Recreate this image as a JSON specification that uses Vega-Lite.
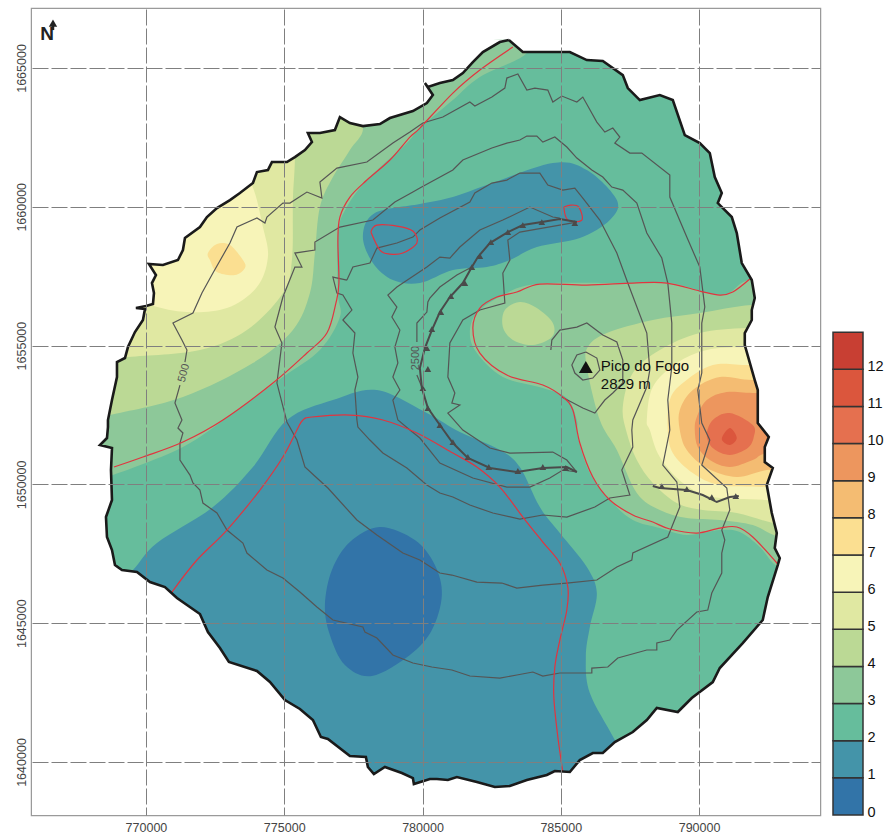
{
"$schema":"https://vega.github.io/schema/vega-lite/v6.json",
"background":"white","padding":{"left":0,"top":7,"right":0,"bottom":0},"autosize":{"type":"pad"},"spacing":10,
"config":{"font":"Liberation Sans"},
"datasets":{
"coast":[
{"k":"f","x":765879,"y":1667125},{"k":"f","x":794374,"y":1667125},{"k":"f","x":794374,"y":1638091},{"k":"f","x":765879,"y":1638091},{"k":"f","x":765879,"y":1667125},
{"k":"c","x":783122,"y":1666006},{"k":"c","x":782797,"y":1665934},{"k":"c","x":782182,"y":1665574},{"k":"c","x":781821,"y":1665214},{"k":"c","x":781459,"y":1664818},{"k":"c","x":781098,"y":1664565},{"k":"c","x":780628,"y":1664457},{"k":"c","x":780194,"y":1664313},{"k":"c","x":780086,"y":1664457},{"k":"c","x":780375,"y":1664025},{"k":"c","x":780158,"y":1663737},{"k":"c","x":779652,"y":1663449},{"k":"c","x":778821,"y":1663197},{"k":"c","x":778459,"y":1662981},{"k":"c","x":777844,"y":1662908},{"k":"c","x":777375,"y":1663017},{"k":"c","x":777013,"y":1663233},{"k":"c","x":776832,"y":1662764},{"k":"c","x":776290,"y":1662656},{"k":"c","x":775856,"y":1662656},{"k":"c","x":776001,"y":1662332},{"k":"c","x":775748,"y":1662044},{"k":"c","x":775386,"y":1661792},{"k":"c","x":775097,"y":1661612},{"k":"c","x":774555,"y":1661612},{"k":"c","x":774410,"y":1661324},{"k":"c","x":774013,"y":1661252},{"k":"c","x":773868,"y":1660855},{"k":"c","x":773398,"y":1660495},{"k":"c","x":773037,"y":1660243},{"k":"c","x":772567,"y":1659955},{"k":"c","x":772205,"y":1659631},{"k":"c","x":771952,"y":1659270},{"k":"c","x":771410,"y":1658874},{"k":"c","x":771337,"y":1658442},{"k":"c","x":771157,"y":1658082},{"k":"c","x":770614,"y":1657902},{"k":"c","x":770108,"y":1657938},{"k":"c","x":770361,"y":1657541},{"k":"c","x":770217,"y":1657253},{"k":"c","x":770289,"y":1656893},{"k":"c","x":770253,"y":1656497},{"k":"c","x":770000,"y":1656425},{"k":"c","x":769638,"y":1656353},{"k":"c","x":769964,"y":1656317},{"k":"c","x":769891,"y":1655921},{"k":"c","x":769602,"y":1655488},{"k":"c","x":769349,"y":1654948},{"k":"c","x":769241,"y":1654552},{"k":"c","x":768952,"y":1654408},{"k":"c","x":768952,"y":1653867},{"k":"c","x":768771,"y":1653039},{"k":"c","x":768626,"y":1652319},{"k":"c","x":768626,"y":1652066},{"k":"c","x":768590,"y":1651670},{"k":"c","x":768337,"y":1651418},{"k":"c","x":768771,"y":1651310},{"k":"c","x":768735,"y":1650518},{"k":"c","x":768771,"y":1649437},{"k":"c","x":768554,"y":1648825},{"k":"c","x":768590,"y":1648104},{"k":"c","x":768771,"y":1647636},{"k":"c","x":768879,"y":1647096},{"k":"c","x":769132,"y":1646916},{"k":"c","x":769675,"y":1646844},{"k":"c","x":770145,"y":1646483},{"k":"c","x":770687,"y":1646303},{"k":"c","x":771121,"y":1645907},{"k":"c","x":771952,"y":1645331},{"k":"c","x":772241,"y":1644682},{"k":"c","x":772675,"y":1644106},{"k":"c","x":773000,"y":1643602},{"k":"c","x":774013,"y":1643278},{"k":"c","x":774483,"y":1642881},{"k":"c","x":775025,"y":1642233},{"k":"c","x":775567,"y":1641909},{"k":"c","x":776037,"y":1641513},{"k":"c","x":776326,"y":1640900},{"k":"c","x":776579,"y":1640828},{"k":"c","x":777375,"y":1640216},{"k":"c","x":777953,"y":1640180},{"k":"c","x":778025,"y":1639820},{"k":"c","x":778242,"y":1639568},{"k":"c","x":778640,"y":1639820},{"k":"c","x":779254,"y":1639604},{"k":"c","x":779652,"y":1639423},{"k":"c","x":779688,"y":1639207},{"k":"c","x":780267,"y":1639387},{"k":"c","x":780520,"y":1639387},{"k":"c","x":780917,"y":1639351},{"k":"c","x":781243,"y":1639459},{"k":"c","x":781966,"y":1639279},{"k":"c","x":782616,"y":1639099},{"k":"c","x":783159,"y":1639135},{"k":"c","x":783773,"y":1639351},{"k":"c","x":784496,"y":1639531},{"k":"c","x":784785,"y":1639676},{"k":"c","x":785328,"y":1639640},{"k":"c","x":785689,"y":1640072},{"k":"c","x":786159,"y":1640324},{"k":"c","x":786520,"y":1640324},{"k":"c","x":786954,"y":1640720},{"k":"c","x":787605,"y":1641080},{"k":"c","x":788111,"y":1641513},{"k":"c","x":788473,"y":1641945},{"k":"c","x":789232,"y":1641801},{"k":"c","x":789738,"y":1642305},{"k":"c","x":790497,"y":1642881},{"k":"c","x":790750,"y":1643386},{"k":"c","x":791581,"y":1644286},{"k":"c","x":792304,"y":1645115},{"k":"c","x":792485,"y":1645943},{"k":"c","x":792847,"y":1647096},{"k":"c","x":792919,"y":1647348},{"k":"c","x":792738,"y":1647708},{"k":"c","x":792811,"y":1648248},{"k":"c","x":792630,"y":1648969},{"k":"c","x":792449,"y":1649977},{"k":"c","x":792666,"y":1650590},{"k":"c","x":792377,"y":1650806},{"k":"c","x":792377,"y":1651346},{"k":"c","x":792522,"y":1651706},{"k":"c","x":792124,"y":1652211},{"k":"c","x":792124,"y":1653399},{"k":"c","x":792015,"y":1653759},{"k":"c","x":791654,"y":1655020},{"k":"c","x":791654,"y":1655452},{"k":"c","x":791907,"y":1655921},{"k":"c","x":791907,"y":1656281},{"k":"c","x":792015,"y":1656713},{"k":"c","x":791907,"y":1657361},{"k":"c","x":791545,"y":1657974},{"k":"c","x":791365,"y":1659054},{"k":"c","x":791184,"y":1659631},{"k":"c","x":790678,"y":1660135},{"k":"c","x":790822,"y":1660495},{"k":"c","x":790569,"y":1661071},{"k":"c","x":790389,"y":1661936},{"k":"c","x":790027,"y":1662296},{"k":"c","x":789485,"y":1662584},{"k":"c","x":789051,"y":1663845},{"k":"c","x":788581,"y":1664025},{"k":"c","x":787858,"y":1663845},{"k":"c","x":787424,"y":1664277},{"k":"c","x":787243,"y":1664745},{"k":"c","x":786520,"y":1665250},{"k":"c","x":785942,"y":1665286},{"k":"c","x":785328,"y":1665574},{"k":"c","x":784351,"y":1665574},{"k":"c","x":783628,"y":1665574},{"k":"c","x":783122,"y":1666006}
],
"bands":[
{"g":"a","b":1,"x":769530,"y":1646916},{"g":"a","b":1,"x":770398,"y":1647888},{"g":"a","b":1,"x":772422,"y":1649185},{"g":"a","b":1,"x":773868,"y":1650626},{"g":"a","b":1,"x":775097,"y":1652319},{"g":"a","b":1,"x":776760,"y":1653039},{"g":"a","b":1,"x":778351,"y":1653399},{"g":"a","b":1,"x":780158,"y":1652571},{"g":"a","b":1,"x":781351,"y":1651886},{"g":"a","b":1,"x":782797,"y":1651238},{"g":"a","b":1,"x":783520,"y":1650626},{"g":"a","b":1,"x":784243,"y":1649185},{"g":"a","b":1,"x":784966,"y":1648248},{"g":"a","b":1,"x":785942,"y":1647024},{"g":"a","b":1,"x":786304,"y":1646087},{"g":"a","b":1,"x":786051,"y":1644862},{"g":"a","b":1,"x":785906,"y":1643782},{"g":"a","b":1,"x":786051,"y":1642485},{"g":"a","b":1,"x":786954,"y":1640792},{"g":"a","b":1,"x":787858,"y":1638991},{"g":"a","b":1,"x":775567,"y":1638631},{"g":"a","b":1,"x":768337,"y":1642233},{"g":"a","b":1,"x":768699,"y":1646195},
{"g":"c","b":1,"x":777844,"y":1658946},{"g":"c","b":1,"x":778278,"y":1659775},{"g":"c","b":1,"x":779905,"y":1660099},{"g":"c","b":1,"x":781098,"y":1660351},{"g":"c","b":1,"x":782327,"y":1660783},{"g":"c","b":1,"x":784713,"y":1661576},{"g":"c","b":1,"x":785942,"y":1661324},{"g":"c","b":1,"x":787027,"y":1660243},{"g":"c","b":1,"x":786774,"y":1659523},{"g":"c","b":1,"x":785689,"y":1658874},{"g":"c","b":1,"x":784135,"y":1658550},{"g":"c","b":1,"x":783159,"y":1658082},{"g":"c","b":1,"x":782327,"y":1657830},{"g":"c","b":1,"x":781098,"y":1657722},{"g":"c","b":1,"x":779905,"y":1657253},{"g":"c","b":1,"x":778929,"y":1657361},{"g":"c","b":1,"x":778206,"y":1657974},
{"g":"d","b":0,"x":778459,"y":1648464},{"g":"d","b":0,"x":779724,"y":1647996},{"g":"d","b":0,"x":780447,"y":1647096},{"g":"d","b":0,"x":780700,"y":1646015},{"g":"d","b":0,"x":780339,"y":1644754},{"g":"d","b":0,"x":779544,"y":1643854},{"g":"d","b":0,"x":778170,"y":1643097},{"g":"d","b":0,"x":777194,"y":1643494},{"g":"d","b":0,"x":776652,"y":1644574},{"g":"d","b":0,"x":776471,"y":1645655},{"g":"d","b":0,"x":776724,"y":1646916},{"g":"d","b":0,"x":777375,"y":1647924},
{"g":"e","b":3,"x":783773,"y":1665538},{"g":"e","b":3,"x":782074,"y":1664673},{"g":"e","b":3,"x":781098,"y":1663845},{"g":"e","b":3,"x":779905,"y":1662836},{"g":"e","b":3,"x":779435,"y":1662296},{"g":"e","b":3,"x":777989,"y":1660963},{"g":"e","b":3,"x":777266,"y":1659991},{"g":"e","b":3,"x":776941,"y":1659054},{"g":"e","b":3,"x":776941,"y":1656893},{"g":"e","b":3,"x":777013,"y":1656029},{"g":"e","b":3,"x":776290,"y":1654840},{"g":"e","b":3,"x":774952,"y":1653867},{"g":"e","b":3,"x":773145,"y":1652571},{"g":"e","b":3,"x":771337,"y":1651346},{"g":"e","b":3,"x":768807,"y":1650337},{"g":"e","b":3,"x":767795,"y":1650085},{"g":"e","b":3,"x":767614,"y":1656641},{"g":"e","b":3,"x":771952,"y":1662044},{"g":"e","b":3,"x":779182,"y":1665286},{"g":"e","b":3,"x":783520,"y":1666366},
{"g":"f","b":4,"x":777844,"y":1662908},{"g":"f","b":4,"x":777375,"y":1662044},{"g":"f","b":4,"x":776760,"y":1661071},{"g":"f","b":4,"x":776290,"y":1659991},{"g":"f","b":4,"x":776109,"y":1658334},{"g":"f","b":4,"x":775929,"y":1656893},{"g":"f","b":4,"x":775314,"y":1655560},{"g":"f","b":4,"x":773868,"y":1654372},{"g":"f","b":4,"x":771337,"y":1653147},{"g":"f","b":4,"x":768699,"y":1652499},{"g":"f","b":4,"x":767795,"y":1652319},{"g":"f","b":4,"x":767614,"y":1658442},{"g":"f","b":4,"x":771952,"y":1662764},{"g":"f","b":4,"x":777013,"y":1664205},
{"g":"h","b":5,"x":775386,"y":1661684},{"g":"h","b":5,"x":775314,"y":1660243},{"g":"h","b":5,"x":775278,"y":1658082},{"g":"h","b":5,"x":774952,"y":1656893},{"g":"h","b":5,"x":773651,"y":1655560},{"g":"h","b":5,"x":771952,"y":1654840},{"g":"h","b":5,"x":769349,"y":1654588},{"g":"h","b":5,"x":767795,"y":1654480},{"g":"h","b":5,"x":767614,"y":1658442},{"g":"h","b":5,"x":771952,"y":1662764},{"g":"h","b":5,"x":775386,"y":1663485},
{"g":"i","b":6,"x":773832,"y":1660783},{"g":"i","b":6,"x":774229,"y":1659270},{"g":"i","b":6,"x":774410,"y":1658190},{"g":"i","b":6,"x":774013,"y":1657109},{"g":"i","b":6,"x":772928,"y":1656353},{"g":"i","b":6,"x":771482,"y":1656209},{"g":"i","b":6,"x":770145,"y":1656461},{"g":"i","b":6,"x":768699,"y":1657001},{"g":"i","b":6,"x":769060,"y":1659523},{"g":"i","b":6,"x":773037,"y":1662044},
{"g":"j","b":7,"x":772567,"y":1658658},{"g":"j","b":7,"x":773037,"y":1658622},{"g":"j","b":7,"x":773506,"y":1658082},{"g":"j","b":7,"x":773579,"y":1657794},{"g":"j","b":7,"x":773217,"y":1657541},{"g":"j","b":7,"x":772567,"y":1657650},{"g":"j","b":7,"x":772314,"y":1658082},{"g":"j","b":7,"x":772241,"y":1658334},
{"g":"k","b":3,"x":791835,"y":1657361},{"g":"k","b":3,"x":790822,"y":1656821},{"g":"k","b":3,"x":788943,"y":1657253},{"g":"k","b":3,"x":787135,"y":1657253},{"g":"k","b":3,"x":784135,"y":1657217},{"g":"k","b":3,"x":782905,"y":1656821},{"g":"k","b":3,"x":781966,"y":1656173},{"g":"k","b":3,"x":781713,"y":1655452},{"g":"k","b":3,"x":781966,"y":1654732},{"g":"k","b":3,"x":782905,"y":1653867},{"g":"k","b":3,"x":784351,"y":1653471},{"g":"k","b":3,"x":785219,"y":1653111},{"g":"k","b":3,"x":785581,"y":1652319},{"g":"k","b":3,"x":785617,"y":1651706},{"g":"k","b":3,"x":786051,"y":1650410},{"g":"k","b":3,"x":786774,"y":1649437},{"g":"k","b":3,"x":787605,"y":1648717},{"g":"k","b":3,"x":788581,"y":1648428},{"g":"k","b":3,"x":789557,"y":1648176},{"g":"k","b":3,"x":790750,"y":1648356},{"g":"k","b":3,"x":791473,"y":1648284},{"g":"k","b":3,"x":792196,"y":1647744},{"g":"k","b":3,"x":792847,"y":1647024},{"g":"k","b":3,"x":794004,"y":1646555},{"g":"k","b":3,"x":794004,"y":1657361},
{"g":"l","b":4,"x":791907,"y":1656461},{"g":"l","b":4,"x":790027,"y":1656173},{"g":"l","b":4,"x":788328,"y":1655921},{"g":"l","b":4,"x":786665,"y":1655452},{"g":"l","b":4,"x":785978,"y":1654948},{"g":"l","b":4,"x":785942,"y":1654228},{"g":"l","b":4,"x":786412,"y":1652319},{"g":"l","b":4,"x":787027,"y":1651238},{"g":"l","b":4,"x":787750,"y":1649689},{"g":"l","b":4,"x":788581,"y":1649077},{"g":"l","b":4,"x":789557,"y":1648789},{"g":"l","b":4,"x":790750,"y":1648717},{"g":"l","b":4,"x":791943,"y":1648536},{"g":"l","b":4,"x":792702,"y":1648176},{"g":"l","b":4,"x":794004,"y":1647816},{"g":"l","b":4,"x":794004,"y":1656461},
{"g":"m","b":4,"x":783520,"y":1656569},{"g":"m","b":4,"x":784135,"y":1656353},{"g":"m","b":4,"x":784713,"y":1655813},{"g":"m","b":4,"x":784677,"y":1655308},{"g":"m","b":4,"x":783990,"y":1655020},{"g":"m","b":4,"x":783267,"y":1655200},{"g":"m","b":4,"x":782905,"y":1655668},{"g":"m","b":4,"x":782978,"y":1656281},
{"g":"n","b":5,"x":791762,"y":1655632},{"g":"n","b":5,"x":790027,"y":1655452},{"g":"n","b":5,"x":788581,"y":1654840},{"g":"n","b":5,"x":787605,"y":1654012},{"g":"n","b":5,"x":787243,"y":1652787},{"g":"n","b":5,"x":787388,"y":1651850},{"g":"n","b":5,"x":787750,"y":1650878},{"g":"n","b":5,"x":788328,"y":1650049},{"g":"n","b":5,"x":789196,"y":1649329},{"g":"n","b":5,"x":790135,"y":1649077},{"g":"n","b":5,"x":791365,"y":1648969},{"g":"n","b":5,"x":792666,"y":1648609},{"g":"n","b":5,"x":794004,"y":1648356},{"g":"n","b":5,"x":794004,"y":1655632},
{"g":"o","b":6,"x":791654,"y":1654948},{"g":"o","b":6,"x":790280,"y":1654840},{"g":"o","b":6,"x":789196,"y":1654372},{"g":"o","b":6,"x":788328,"y":1653507},{"g":"o","b":6,"x":788111,"y":1652319},{"g":"o","b":6,"x":788220,"y":1651958},{"g":"o","b":6,"x":788581,"y":1650986},{"g":"o","b":6,"x":789413,"y":1650049},{"g":"o","b":6,"x":790497,"y":1649545},{"g":"o","b":6,"x":792449,"y":1649437},{"g":"o","b":6,"x":794004,"y":1649257},{"g":"o","b":6,"x":794004,"y":1654948},
{"g":"q","b":7,"x":791835,"y":1654300},{"g":"q","b":7,"x":790497,"y":1654300},{"g":"q","b":7,"x":789413,"y":1653651},{"g":"q","b":7,"x":788943,"y":1653039},{"g":"q","b":7,"x":788870,"y":1651958},{"g":"q","b":7,"x":789051,"y":1651130},{"g":"q","b":7,"x":789774,"y":1650410},{"g":"q","b":7,"x":790750,"y":1649977},{"g":"q","b":7,"x":792449,"y":1649905},{"g":"q","b":7,"x":794004,"y":1649797},{"g":"q","b":7,"x":794004,"y":1654300},
{"g":"r","b":8,"x":791943,"y":1653759},{"g":"r","b":8,"x":790750,"y":1653867},{"g":"r","b":8,"x":789774,"y":1653399},{"g":"r","b":8,"x":789304,"y":1652679},{"g":"r","b":8,"x":789304,"y":1651958},{"g":"r","b":8,"x":789557,"y":1651238},{"g":"r","b":8,"x":790280,"y":1650590},{"g":"r","b":8,"x":791365,"y":1650265},{"g":"r","b":8,"x":792449,"y":1650518},{"g":"r","b":8,"x":794004,"y":1650698},{"g":"r","b":8,"x":794004,"y":1653759},
{"g":"s","b":9,"x":792088,"y":1653291},{"g":"s","b":9,"x":791003,"y":1653327},{"g":"s","b":9,"x":790280,"y":1653039},{"g":"s","b":9,"x":789919,"y":1652427},{"g":"s","b":9,"x":789846,"y":1651958},{"g":"s","b":9,"x":789955,"y":1651346},{"g":"s","b":9,"x":790389,"y":1650878},{"g":"s","b":9,"x":791112,"y":1650626},{"g":"s","b":9,"x":791943,"y":1650878},{"g":"s","b":9,"x":792449,"y":1651130},{"g":"s","b":9,"x":794004,"y":1651238},{"g":"s","b":9,"x":794004,"y":1653291},
{"g":"t","b":10,"x":791112,"y":1652571},{"g":"t","b":10,"x":791943,"y":1652138},{"g":"t","b":10,"x":791979,"y":1651706},{"g":"t","b":10,"x":791762,"y":1651310},{"g":"t","b":10,"x":791112,"y":1651058},{"g":"t","b":10,"x":790497,"y":1651310},{"g":"t","b":10,"x":790280,"y":1651778},{"g":"t","b":10,"x":790497,"y":1652319},
{"g":"u","b":11,"x":791112,"y":1652030},{"g":"u","b":11,"x":791365,"y":1651670},{"g":"u","b":11,"x":791112,"y":1651418},{"g":"u","b":11,"x":790822,"y":1651634}
],
"contours":[
{"l":"a","x":771229,"y":1653579},{"l":"a","x":771048,"y":1652931},{"l":"a","x":771301,"y":1652319},{"l":"a","x":771157,"y":1652030},{"l":"a","x":771337,"y":1651850},{"l":"a","x":771229,"y":1651490},{"l":"a","x":771229,"y":1650878},{"l":"a","x":771591,"y":1650337},{"l":"a","x":771699,"y":1650049},{"l":"a","x":771952,"y":1649797},{"l":"a","x":772060,"y":1649329},{"l":"a","x":772567,"y":1648969},{"l":"a","x":772928,"y":1648356},{"l":"a","x":773506,"y":1647888},{"l":"a","x":773651,"y":1647528},{"l":"a","x":774374,"y":1646916},{"l":"a","x":774952,"y":1646627},{"l":"a","x":775567,"y":1646123},{"l":"a","x":776182,"y":1645583},{"l":"a","x":776760,"y":1645115},{"l":"a","x":777844,"y":1644862},{"l":"a","x":777917,"y":1644682},{"l":"a","x":778351,"y":1644466},{"l":"a","x":778929,"y":1643854},{"l":"a","x":779652,"y":1643566},{"l":"a","x":780339,"y":1643422},{"l":"a","x":781062,"y":1643314},{"l":"a","x":781713,"y":1643097},{"l":"a","x":782797,"y":1643025},{"l":"a","x":783412,"y":1643133},{"l":"a","x":783990,"y":1643241},{"l":"a","x":784351,"y":1643097},{"l":"a","x":784966,"y":1643206},{"l":"a","x":786123,"y":1643206},{"l":"a","x":786123,"y":1643385},{"l":"a","x":786701,"y":1643422},{"l":"a","x":787063,"y":1643746},{"l":"a","x":788111,"y":1644034},{"l":"a","x":788473,"y":1644034},{"l":"a","x":788473,"y":1644286},{"l":"a","x":788943,"y":1644394},{"l":"a","x":789196,"y":1644754},{"l":"a","x":789919,"y":1645403},{"l":"a","x":790316,"y":1645475},{"l":"a","x":790461,"y":1646087},{"l":"a","x":790822,"y":1646808},{"l":"a","x":790822,"y":1647528},{"l":"a","x":790931,"y":1647996},{"l":"a","x":790822,"y":1648356},{"l":"a","x":791112,"y":1649077},{"l":"a","x":791003,"y":1649869},{"l":"a","x":790099,"y":1650698},{"l":"a","x":790389,"y":1651598},{"l":"a","x":790099,"y":1652211},{"l":"a","x":789955,"y":1653399},{"l":"a","x":790099,"y":1654012},{"l":"a","x":790099,"y":1655813},{"l":"a","x":790208,"y":1656389},{"l":"a","x":790027,"y":1657830},{"l":"a","x":789557,"y":1658910},{"l":"a","x":788943,"y":1660351},{"l":"a","x":788943,"y":1661143},{"l":"a","x":787930,"y":1661936},{"l":"a","x":787497,"y":1661936},{"l":"a","x":786954,"y":1662296},{"l":"a","x":787135,"y":1662512},{"l":"a","x":786882,"y":1662836},{"l":"a","x":786593,"y":1662692},{"l":"a","x":786304,"y":1663053},{"l":"a","x":785797,"y":1663953},{"l":"a","x":785581,"y":1663773},{"l":"a","x":785038,"y":1663989},{"l":"a","x":784713,"y":1663773},{"l":"a","x":784532,"y":1664205},{"l":"a","x":784062,"y":1664277},{"l":"a","x":783773,"y":1664205},{"l":"a","x":783448,"y":1664782},{"l":"a","x":783050,"y":1664637},{"l":"a","x":782978,"y":1664277},{"l":"a","x":782508,"y":1663953},{"l":"a","x":781893,"y":1663629},{"l":"a","x":781713,"y":1663773},{"l":"a","x":780736,"y":1663233},{"l":"a","x":780013,"y":1663017},{"l":"a","x":779544,"y":1662692},{"l":"a","x":778929,"y":1662296},{"l":"a","x":777989,"y":1661612},{"l":"a","x":776905,"y":1661396},{"l":"a","x":776290,"y":1660891},{"l":"a","x":776362,"y":1660315},{"l":"a","x":775820,"y":1660531},{"l":"a","x":775206,"y":1660135},{"l":"a","x":774952,"y":1660135},{"l":"a","x":774374,"y":1659631},{"l":"a","x":774302,"y":1659415},{"l":"a","x":774013,"y":1659595},{"l":"a","x":773290,"y":1659270},{"l":"a","x":773037,"y":1658694},{"l":"a","x":772422,"y":1657614},{"l":"a","x":772024,"y":1656893},{"l":"a","x":771699,"y":1656173},{"l":"a","x":770976,"y":1655813},{"l":"a","x":771301,"y":1655200},{"l":"a","x":771482,"y":1654840},{"l":"a","x":771410,"y":1654408},
{"l":"b","x":779905,"y":1660675},{"l":"b","x":781098,"y":1661324},{"l":"b","x":781459,"y":1661684},{"l":"b","x":782508,"y":1662116},{"l":"b","x":783050,"y":1662296},{"l":"b","x":783520,"y":1662404},{"l":"b","x":783773,"y":1662548},{"l":"b","x":784135,"y":1662548},{"l":"b","x":784351,"y":1662332},{"l":"b","x":784785,"y":1662512},{"l":"b","x":785219,"y":1662152},{"l":"b","x":785581,"y":1661756},{"l":"b","x":786123,"y":1661324},{"l":"b","x":786520,"y":1661071},{"l":"b","x":786846,"y":1660711},{"l":"b","x":787243,"y":1660603},{"l":"b","x":787750,"y":1660135},{"l":"b","x":788111,"y":1659054},{"l":"b","x":788653,"y":1658154},{"l":"b","x":788870,"y":1657253},{"l":"b","x":789015,"y":1655813},{"l":"b","x":789015,"y":1654228},{"l":"b","x":788870,"y":1653039},{"l":"b","x":788943,"y":1651958},{"l":"b","x":788689,"y":1650698},{"l":"b","x":789196,"y":1650085},{"l":"b","x":789304,"y":1649185},{"l":"b","x":788870,"y":1648104},{"l":"b","x":787605,"y":1647528},{"l":"b","x":787569,"y":1647276},{"l":"b","x":787027,"y":1647024},{"l":"b","x":786304,"y":1646555},{"l":"b","x":785219,"y":1646447},{"l":"b","x":784351,"y":1646375},{"l":"b","x":783412,"y":1646267},{"l":"b","x":782869,"y":1646447},{"l":"b","x":781966,"y":1646483},{"l":"b","x":781062,"y":1646735},{"l":"b","x":780628,"y":1646808},{"l":"b","x":779905,"y":1647276},{"l":"b","x":779290,"y":1647528},{"l":"b","x":778351,"y":1648176},{"l":"b","x":777628,"y":1648717},{"l":"b","x":776579,"y":1649869},{"l":"b","x":776182,"y":1650229},{"l":"b","x":775748,"y":1650626},{"l":"b","x":775459,"y":1651598},{"l":"b","x":775097,"y":1652247},{"l":"b","x":774736,"y":1653651},{"l":"b","x":774916,"y":1655092},{"l":"b","x":774663,"y":1655668},{"l":"b","x":774952,"y":1656749},{"l":"b","x":775386,"y":1657830},{"l":"b","x":775639,"y":1657830},{"l":"b","x":775386,"y":1658334},{"l":"b","x":776109,"y":1658442},{"l":"b","x":776109,"y":1658730},{"l":"b","x":777013,"y":1659270},{"l":"b","x":778206,"y":1659523},{"l":"b","x":779001,"y":1660171},{"l":"b","x":779652,"y":1660531},{"l":"b","x":779905,"y":1660675},
{"l":"c","x":777266,"y":1657361},{"l":"c","x":776760,"y":1657469},{"l":"c","x":776905,"y":1656893},{"l":"c","x":777121,"y":1656821},{"l":"c","x":777447,"y":1656281},{"l":"c","x":777121,"y":1655921},{"l":"c","x":777555,"y":1655452},{"l":"c","x":777483,"y":1654732},{"l":"c","x":777664,"y":1653867},{"l":"c","x":777555,"y":1653399},{"l":"c","x":777628,"y":1652319},{"l":"c","x":777664,"y":1652066},{"l":"c","x":778098,"y":1651598},{"l":"c","x":778567,"y":1651130},{"l":"c","x":779435,"y":1650590},{"l":"c","x":780158,"y":1649977},{"l":"c","x":780628,"y":1649689},{"l":"c","x":781098,"y":1649545},{"l":"c","x":781713,"y":1649257},{"l":"c","x":782544,"y":1648969},{"l":"c","x":783520,"y":1648753},{"l":"c","x":784351,"y":1648897},{"l":"c","x":785219,"y":1648825},{"l":"c","x":786231,"y":1649185},{"l":"c","x":786774,"y":1649509},{"l":"c","x":787497,"y":1649617},{"l":"c","x":787207,"y":1650518},{"l":"c","x":787605,"y":1651346},{"l":"c","x":787569,"y":1651958},{"l":"c","x":787605,"y":1652319},{"l":"c","x":788111,"y":1653507},{"l":"c","x":788220,"y":1654120},{"l":"c","x":788111,"y":1655452},{"l":"c","x":787424,"y":1657253},{"l":"c","x":787027,"y":1658334},{"l":"c","x":786412,"y":1659523},{"l":"c","x":785797,"y":1660315},{"l":"c","x":785508,"y":1660675},{"l":"c","x":785074,"y":1660603},{"l":"c","x":784532,"y":1660783},{"l":"c","x":784243,"y":1661215},{"l":"c","x":783520,"y":1661215},{"l":"c","x":783050,"y":1660963},{"l":"c","x":782508,"y":1660855},{"l":"c","x":781893,"y":1660495},{"l":"c","x":781713,"y":1660171},{"l":"c","x":780628,"y":1659595},{"l":"c","x":779905,"y":1659162},{"l":"c","x":779652,"y":1658910},{"l":"c","x":779074,"y":1658694},{"l":"c","x":778351,"y":1658514},{"l":"c","x":778098,"y":1657974},{"l":"c","x":777483,"y":1657830},{"l":"c","x":777266,"y":1657361},
{"l":"d","x":785581,"y":1650446},{"l":"d","x":785074,"y":1650518},{"l":"d","x":784605,"y":1650229},{"l":"d","x":783882,"y":1649905},{"l":"d","x":783050,"y":1649905},{"l":"d","x":781821,"y":1650229},{"l":"d","x":780628,"y":1650770},{"l":"d","x":779905,"y":1651670},{"l":"d","x":779544,"y":1651958},{"l":"d","x":779110,"y":1652319},{"l":"d","x":778929,"y":1653039},{"l":"d","x":779182,"y":1653399},{"l":"d","x":778929,"y":1653867},{"l":"d","x":779110,"y":1654372},{"l":"d","x":779001,"y":1654948},{"l":"d","x":779182,"y":1655560},{"l":"d","x":778893,"y":1656029},{"l":"d","x":779074,"y":1656389},{"l":"d","x":778748,"y":1656821},{"l":"d","x":779074,"y":1657109},{"l":"d","x":779290,"y":1657253},{"l":"d","x":780158,"y":1657830},{"l":"d","x":780628,"y":1658190},{"l":"d","x":780990,"y":1658154},{"l":"d","x":781351,"y":1658550},{"l":"d","x":782074,"y":1659162},{"l":"d","x":782905,"y":1659523},{"l":"d","x":783882,"y":1659991},{"l":"d","x":784713,"y":1659631},{"l":"d","x":784966,"y":1659595},
{"l":"e","x":781785,"y":1657830},{"l":"e","x":781243,"y":1657541},{"l":"e","x":780628,"y":1657109},{"l":"e","x":780267,"y":1656713},{"l":"e","x":780194,"y":1656569},{"l":"e","x":780158,"y":1656209},{"l":"e","x":779797,"y":1655813},{"l":"e","x":779797,"y":1655128},
{"l":"g","x":779797,"y":1653939},{"l":"g","x":779977,"y":1653507},
{"l":"h","x":785581,"y":1659451},{"l":"h","x":783520,"y":1659090},{"l":"h","x":783086,"y":1658802},{"l":"h","x":783159,"y":1658082},{"l":"h","x":782905,"y":1657614},{"l":"h","x":782978,"y":1656533},{"l":"h","x":782074,"y":1656281},{"l":"h","x":781459,"y":1655921},{"l":"h","x":780990,"y":1655092},{"l":"h","x":780917,"y":1653867},{"l":"h","x":781170,"y":1653291},{"l":"h","x":781062,"y":1652931},{"l":"h","x":781351,"y":1652859},{"l":"h","x":780917,"y":1652571},{"l":"h","x":781459,"y":1651958},{"l":"h","x":782436,"y":1651310},{"l":"h","x":783159,"y":1651130},{"l":"h","x":784713,"y":1651166},{"l":"h","x":785219,"y":1650878},{"l":"h","x":785581,"y":1650446},
{"l":"i","x":784641,"y":1654840},{"l":"i","x":784677,"y":1655200},{"l":"i","x":784966,"y":1655560},{"l":"i","x":785581,"y":1655668},{"l":"i","x":785942,"y":1655813},{"l":"i","x":786520,"y":1655380},{"l":"i","x":787027,"y":1655128},{"l":"i","x":787243,"y":1654480},{"l":"i","x":787243,"y":1653651},{"l":"i","x":786882,"y":1653291},{"l":"i","x":786593,"y":1653039},{"l":"i","x":786231,"y":1652571},{"l":"i","x":785797,"y":1652751},{"l":"i","x":785038,"y":1653147},
{"l":"j","x":785906,"y":1654768},{"l":"j","x":786304,"y":1654552},{"l":"j","x":786412,"y":1654120},{"l":"j","x":786159,"y":1653831},{"l":"j","x":785797,"y":1653759},{"l":"j","x":785508,"y":1654012},{"l":"j","x":785400,"y":1654300},{"l":"j","x":785581,"y":1654660},{"l":"j","x":785906,"y":1654768}
],
"scarps":[
{"l":"a","x":785581,"y":1659451},{"l":"a","x":784966,"y":1659559},{"l":"a","x":784315,"y":1659451},{"l":"a","x":783628,"y":1659342},{"l":"a","x":783086,"y":1659090},{"l":"a","x":782436,"y":1658694},{"l":"a","x":782002,"y":1658190},{"l":"a","x":781785,"y":1657830},{"l":"a","x":781459,"y":1657253},{"l":"a","x":780990,"y":1656749},{"l":"a","x":780628,"y":1656209},{"l":"a","x":780339,"y":1655560},{"l":"a","x":780086,"y":1654912},{"l":"a","x":779905,"y":1654192},{"l":"a","x":779977,"y":1653471},{"l":"a","x":780194,"y":1652751},{"l":"a","x":780628,"y":1652138},{"l":"a","x":781098,"y":1651490},{"l":"a","x":781640,"y":1650950},{"l":"a","x":782436,"y":1650590},{"l":"a","x":783412,"y":1650446},{"l":"a","x":784351,"y":1650590},{"l":"a","x":785219,"y":1650626},{"l":"a","x":785581,"y":1650446},
{"l":"b","x":788328,"y":1649941},{"l":"b","x":788581,"y":1649869},{"l":"b","x":789557,"y":1649797},{"l":"b","x":790135,"y":1649617},{"l":"b","x":790642,"y":1649365},{"l":"b","x":791112,"y":1649545},{"l":"b","x":791437,"y":1649581}
],
"barbs":[
{"x":785508,"y":1659415},{"x":784315,"y":1659451},{"x":783628,"y":1659342},{"x":783086,"y":1659090},{"x":782472,"y":1658730},{"x":782074,"y":1658226},{"x":781785,"y":1657830},{"x":781532,"y":1657253},{"x":781026,"y":1656785},{"x":780664,"y":1656209},{"x":780339,"y":1655596},{"x":780158,"y":1654912},{"x":780194,"y":1654156},{"x":780013,"y":1653471},{"x":780194,"y":1652751},{"x":780628,"y":1652138},{"x":781098,"y":1651526},{"x":781640,"y":1650986},{"x":782399,"y":1650626},{"x":783448,"y":1650482},{"x":784351,"y":1650626},{"x":785183,"y":1650590},{"x":788653,"y":1649941},{"x":789557,"y":1649833},{"x":790461,"y":1649545},{"x":791328,"y":1649581}
],
"faults":[
{"l":"a","x":783267,"y":1665754},{"l":"a","x":782074,"y":1664926},{"l":"a","x":781098,"y":1664097},{"l":"a","x":779905,"y":1662836},{"l":"a","x":779544,"y":1662512},{"l":"a","x":778821,"y":1661684},{"l":"a","x":777989,"y":1660963},{"l":"a","x":777375,"y":1660351},{"l":"a","x":777013,"y":1659631},{"l":"a","x":776941,"y":1658802},{"l":"a","x":776977,"y":1657253},{"l":"a","x":776868,"y":1656533},{"l":"a","x":776543,"y":1655452},{"l":"a","x":775820,"y":1654732},{"l":"a","x":774591,"y":1653651},{"l":"a","x":772783,"y":1652319},{"l":"a","x":771337,"y":1651526},{"l":"a","x":769891,"y":1650986},{"l":"a","x":768843,"y":1650626},
{"l":"b","x":770940,"y":1646123},{"l":"b","x":771844,"y":1647276},{"l":"b","x":772928,"y":1648356},{"l":"b","x":774121,"y":1649797},{"l":"b","x":774952,"y":1650986},{"l":"b","x":775459,"y":1651958},{"l":"b","x":775675,"y":1652319},{"l":"b","x":776001,"y":1652427},{"l":"b","x":777375,"y":1652499},{"l":"b","x":778567,"y":1652319},{"l":"b","x":779797,"y":1651850},{"l":"b","x":781098,"y":1651130},{"l":"b","x":781966,"y":1650626},{"l":"b","x":782797,"y":1649905},{"l":"b","x":783628,"y":1648825},{"l":"b","x":784351,"y":1647924},{"l":"b","x":784966,"y":1647168},{"l":"b","x":785255,"y":1646303},{"l":"b","x":785219,"y":1645475},{"l":"b","x":784966,"y":1644394},{"l":"b","x":784785,"y":1643422},{"l":"b","x":784749,"y":1642341},{"l":"b","x":784894,"y":1640900},{"l":"b","x":785074,"y":1639640},
{"l":"c","x":791835,"y":1657397},{"l":"c","x":791220,"y":1656929},{"l":"c","x":790750,"y":1656821},{"l":"c","x":790027,"y":1656965},{"l":"c","x":788834,"y":1657253},{"l":"c","x":787605,"y":1657253},{"l":"c","x":785942,"y":1657181},{"l":"c","x":784243,"y":1657217},{"l":"c","x":783412,"y":1656929},{"l":"c","x":782689,"y":1656749},{"l":"c","x":782074,"y":1656353},{"l":"c","x":781821,"y":1655632},{"l":"c","x":782074,"y":1654732},{"l":"c","x":783050,"y":1653939},{"l":"c","x":784351,"y":1653579},{"l":"c","x":785074,"y":1653147},{"l":"c","x":785436,"y":1652679},{"l":"c","x":785689,"y":1651490},{"l":"c","x":786159,"y":1650265},{"l":"c","x":786774,"y":1649437},{"l":"c","x":787605,"y":1648897},{"l":"c","x":788328,"y":1648645},{"l":"c","x":788943,"y":1648392},{"l":"c","x":789919,"y":1648248},{"l":"c","x":790750,"y":1648428},{"l":"c","x":791365,"y":1648464},{"l":"c","x":791943,"y":1648104},{"l":"c","x":792847,"y":1647132},
{"l":"d","x":778134,"y":1659090},{"l":"d","x":778351,"y":1659342},{"l":"d","x":779074,"y":1659306},{"l":"d","x":779652,"y":1659126},{"l":"d","x":779797,"y":1658694},{"l":"d","x":779290,"y":1658334},{"l":"d","x":778821,"y":1658298},{"l":"d","x":778459,"y":1658442},{"l":"d","x":778134,"y":1659090},
{"l":"e","x":785111,"y":1659991},{"l":"e","x":785364,"y":1660063},{"l":"e","x":785653,"y":1659991},{"l":"e","x":785761,"y":1659523},{"l":"e","x":785255,"y":1659523},{"l":"e","x":785111,"y":1659991}
],
"legend":[{"lo":0,"hi":1,"b":0},{"lo":1,"hi":2,"b":1},{"lo":2,"hi":3,"b":2},{"lo":3,"hi":4,"b":3},{"lo":4,"hi":5,"b":4},{"lo":5,"hi":6,"b":5},{"lo":6,"hi":7,"b":6},{"lo":7,"hi":8,"b":7},{"lo":8,"hi":9,"b":8},{"lo":9,"hi":10,"b":9},{"lo":10,"hi":11,"b":10},{"lo":11,"hi":12,"b":11},{"lo":12,"hi":13,"b":12}]
},
"hconcat":[
{"width":788,"height":806,"view":{"stroke":"#9a9a9a","strokeWidth":2.5},
"encoding":{
"x":{"field":"x","type":"quantitative","title":null,"scale":{"domain":[765879,794374],"nice":false,"zero":false},
"axis":{"values":[770000,775000,780000,785000,790000],"format":"d","grid":true,"gridColor":"#7f7f7f","gridDash":[16,3],"gridWidth":1,"ticks":false,"domain":false,"labelFont":"Liberation Sans","labelFontSize":12.5,"labelColor":"#444444","labelPadding":6,"zindex":1}},
"y":{"field":"y","type":"quantitative","title":null,"scale":{"domain":[1638091,1667125],"nice":false,"zero":false},
"axis":{"values":[1640000,1645000,1650000,1655000,1660000,1665000],"format":"d","grid":true,"gridColor":"#7f7f7f","gridDash":[16,3],"gridWidth":1,"ticks":false,"domain":false,"labelFont":"Liberation Sans","labelFontSize":12.5,"labelColor":"#444444","labelAngle":-90,"labelAlign":"center","labelBaseline":"bottom","labelPadding":4,"minExtent":30,"maxExtent":30,"zindex":1}}
},
"layer":[
{"data":{"name":"coast"},"transform":[{"filter":"datum.k=='c'"}],"mark":{"type":"line","fill":"#66BD9C","stroke":null,"strokeWidth":0,"clip":true},"encoding":{"order":{"value":null}}},
{"data":{"name":"bands"},"mark":{"type":"line","interpolate":"cardinal-closed","strokeWidth":0,"clip":true},"encoding":{"order":{"value":null},"detail":{"field":"g"},"stroke":{"value":null},"fill":{"field":"b","type":"ordinal","legend":null,"scale":{"domain":[0,1,2,3,4,5,6,7,8,9,10,11,12],"range":["#3274A8","#4494A9","#66BD9C","#8DC899","#BBD995","#E0E8A2","#F7F4B8","#FBDF91","#F4BC72","#ED965E","#E5704F","#DB563D","#C83F33"]}}}},
{"data":{"name":"coast"},"mark":{"type":"line","fill":"white","stroke":null,"strokeWidth":0,"clip":true},"encoding":{"order":{"value":null}}},
{"data":{"name":"contours"},"mark":{"type":"line","stroke":"#555555","strokeWidth":1.2,"clip":true},"encoding":{"order":{"value":null},"detail":{"field":"l"}}},
{"data":{"name":"faults"},"mark":{"type":"line","interpolate":"cardinal","stroke":"#E2343F","strokeWidth":1.2,"clip":true},"encoding":{"order":{"value":null},"detail":{"field":"l"}}},
{"data":{"name":"scarps"},"mark":{"type":"line","stroke":"#4a4a4a","strokeWidth":2,"clip":true},"encoding":{"order":{"value":null},"detail":{"field":"l"}}},
{"data":{"name":"barbs"},"mark":{"type":"point","shape":"triangle-up","filled":true,"color":"#4a4a4a","size":45,"opacity":1}},
{"data":{"name":"coast"},"transform":[{"filter":"datum.k=='c'"}],"mark":{"type":"line","stroke":"#1a1a1a","strokeWidth":2.6,"clip":true},"encoding":{"order":{"value":null}}},
{"data":{"values":[{"x":785906,"y":1654228}]},"mark":{"type":"point","shape":"triangle-up","filled":true,"color":"#111111","size":190,"opacity":1}},
{"data":{"values":[{"x":771374,"y":1654012,"t":"500"}]},"mark":{"type":"text","angle":285,"fontSize":11,"font":"Liberation Sans","color":"#555555"},"encoding":{"text":{"field":"t"}}},
{"data":{"values":[{"x":779760,"y":1654552,"t":"2500"}]},"mark":{"type":"text","angle":270,"fontSize":11,"font":"Liberation Sans","color":"#555555"},"encoding":{"text":{"field":"t"}}},
{"data":{"values":[{"x":786448,"y":1654264,"t":"Pico do Fogo"},{"x":786448,"y":1653615,"t":"2829 m"}]},"mark":{"type":"text","align":"left","fontSize":15,"font":"Liberation Sans","color":"#111111"},"encoding":{"text":{"field":"t"}}},
{"data":{"values":[{"x":766421,"y":1666222,"t":"N"}]},"mark":{"type":"text","fontSize":19,"fontWeight":"bold","font":"Liberation Sans","color":"#222222"},"encoding":{"text":{"field":"t"}}},
{"data":{"values":[{"x":766638,"y":1666619},{"x":766638,"y":1666366}]},"mark":{"type":"line","stroke":"#222222","strokeWidth":2.5},"encoding":{"order":{"value":null}}},
{"data":{"values":[{"x":766638,"y":1666619}]},"mark":{"type":"point","shape":"triangle-up","filled":true,"color":"#222222","size":70,"opacity":1}}
]},
{"width":30,"height":806,"view":{"stroke":null},"data":{"name":"legend"},"mark":{"type":"rect","stroke":"#333333","strokeWidth":1.5},
"encoding":{
"y":{"field":"lo","type":"quantitative","title":null,"scale":{"domain":[0,21.7],"nice":false,"zero":false},"axis":{"orient":"right","values":[0,1,2,3,4,5,6,7,8,9,10,11,12],"grid":false,"ticks":false,"domain":false,"labelFontSize":14.5,"labelFont":"Liberation Sans","labelColor":"#111111","labelPadding":4,"labelOffset":-3,"format":"d"}},
"y2":{"field":"hi"},
"fill":{"field":"b","type":"ordinal","legend":null,"scale":{"domain":[0,1,2,3,4,5,6,7,8,9,10,11,12],"range":["#3274A8","#4494A9","#66BD9C","#8DC899","#BBD995","#E0E8A2","#F7F4B8","#FBDF91","#F4BC72","#ED965E","#E5704F","#DB563D","#C83F33"]}}
}}
]
}
